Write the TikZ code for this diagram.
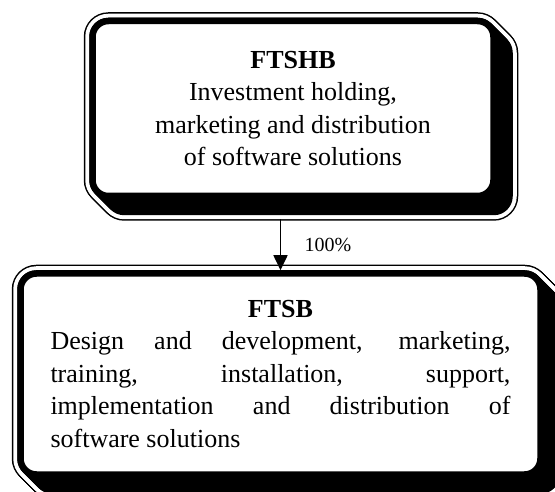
\documentclass[tikz,border=0pt]{standalone}
\usepackage{fontspec}
\setmainfont{Liberation Serif}
\usetikzlibrary{calc,backgrounds,arrows.meta}

\begin{document}
\begin{tikzpicture}
[x=1pt,y=-1pt,%
  company/.style={draw,fill=white,line width=6.5pt,rounded corners=16pt,
    font=\fontsize{26pt}{32.5pt}\selectfont},
  link/.style={line width=1.6pt,-{Triangle[length=15pt,width=14pt]}}]
\useasboundingbox (0,0) rectangle (555,492);
\node[company,align=center,minimum width=401pt,minimum height=175pt] (ftshb) at (293,108.5)
  {\textbf{FTSHB}\\Investment holding,\\marketing and distribution\\of software solutions};
\node[company,align=justify,text width=460pt,minimum width=520pt,minimum height=201pt] (ftsb) at (280.5,374)
  {\tolerance=10000 \hyphenpenalty=10000
   \hfill\textbf{FTSB}\hfill\null\par
   Design and development, marketing,\linebreak
   training, installation, support,\linebreak
   implementation and distribution of\linebreak
   software solutions};
% extruded shadow with a thin outline
\begin{scope}[on background layer]
  \foreach \b in {ftshb,ftsb}
    \foreach \e/\c in {5.5/black,4/white,0/black}
      \foreach \t in {0,...,16}
        \fill[\c,rounded corners=19pt+\e pt]
          ($(\b.south west)+(\t-\e,\t+\e)$) rectangle ($(\b.north east)+(\t+\e,\t-\e)$);
\end{scope}
\draw[link] ($(ftshb.south -| ftsb.north)+(0,20)$) -- node[right=20pt,font=\fontsize{20pt}{24pt}\selectfont] (share) {100\%} (ftsb.north);
\end{tikzpicture}
\end{document}
